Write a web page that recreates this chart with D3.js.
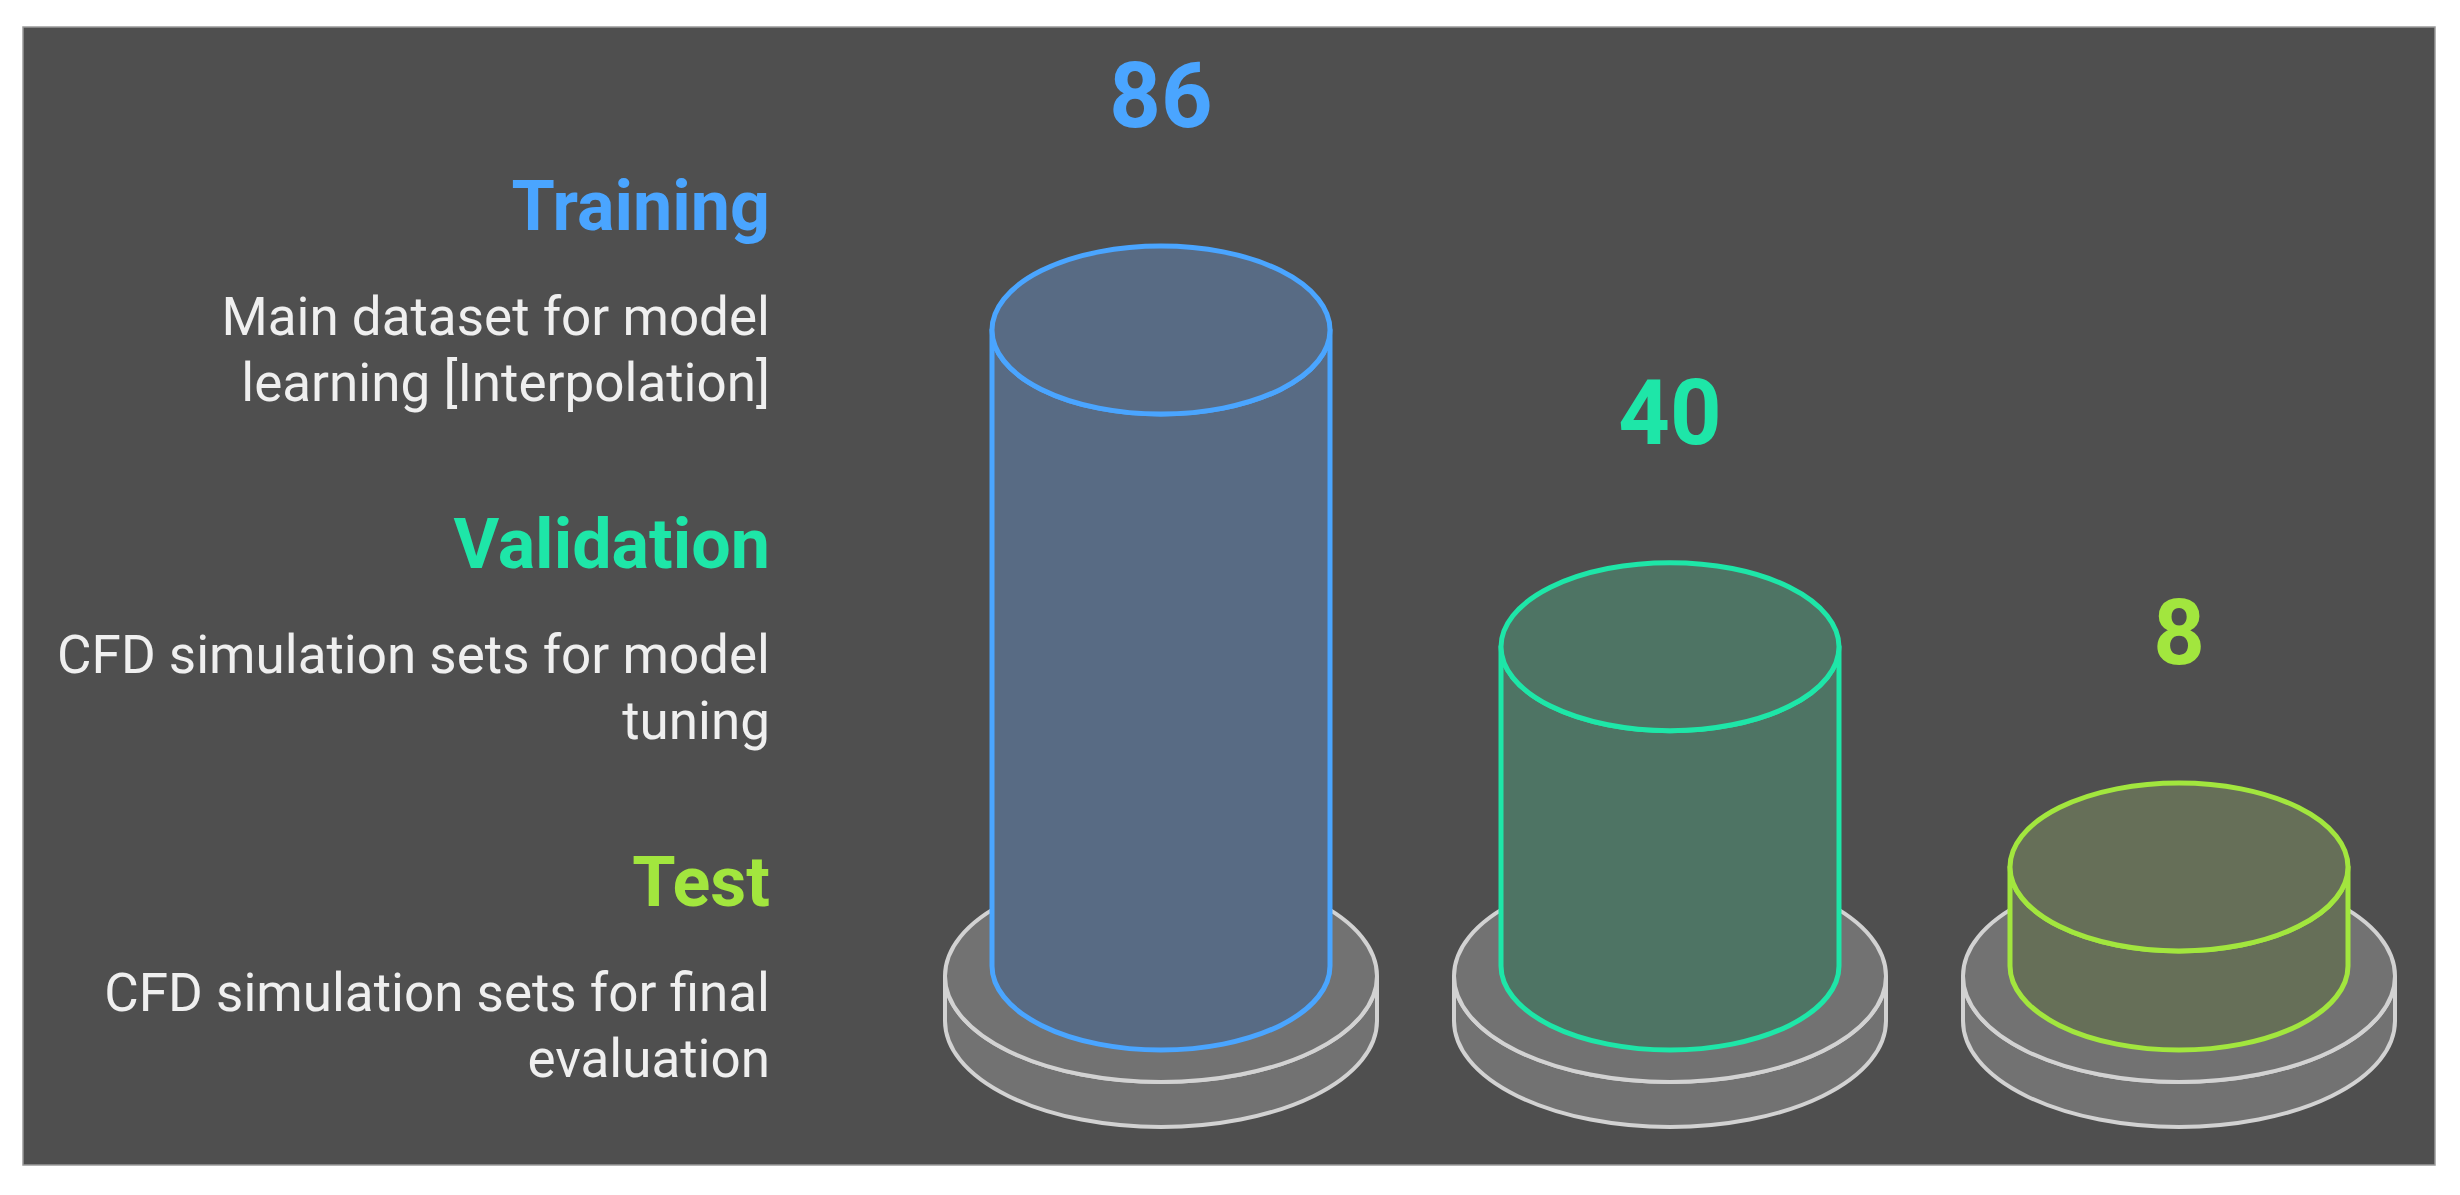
<!DOCTYPE html>
<html>
<head>
<meta charset="utf-8">
<script src="https://cdn.jsdelivr.net/npm/d3@7"></script>
<style>
  html, body { margin: 0; padding: 0; background: #ffffff; }
  svg { display: block; }
</style>
</head>
<body>
<svg id="chart" width="2460" height="1195"></svg>
<script>
// ---- data ----
const categories = ["Training", "Validation", "Test"];
const values = [86, 40, 8];
const valueLabels = ["86", "40", "8"];
const descriptions = [
  ["Main dataset for model", "learning [Interpolation]"],
  ["CFD simulation sets for model", "tuning"],
  ["CFD simulation sets for final", "evaluation"]
];
const strokeColors = ["#4aa5ff", "#1ee6a8", "#a2e63e"];
const fillColors = ["#586b84", "#4e7464", "#666f58"];

// ---- layout ----
const W = 2460, H = 1195;
const svg = d3.select("#chart");

svg.append("rect")
  .attr("x", 23).attr("y", 27).attr("width", 2412).attr("height", 1138)
  .attr("fill", "#4f4f4f").attr("stroke", "#9a9a9a").attr("stroke-width", 1.5);

const x = d3.scalePoint().domain(categories).range([1161, 2179]);
const h = d3.scaleLinear().domain([0, 86]).range([44, 636]);

const baseY = 966;      // cylinder bottom centre
const rx = 169, ry = 84; // cylinder ellipse radii
const pRx = 216, pRy = 106, pT = 45, pTop = 976; // pedestal

const g = svg.append("g");

categories.forEach((c, i) => {
  const cx = x(c);
  // pedestal side
  const side = d3.path();
  side.moveTo(cx - pRx, pTop);
  side.lineTo(cx - pRx, pTop + pT);
  side.arcTo; // placeholder (ellipse arcs via SVG path string below)
  const sidePath = `M${cx - pRx},${pTop} L${cx - pRx},${pTop + pT} ` +
    `A${pRx},${pRy} 0 0 0 ${cx + pRx},${pTop + pT} L${cx + pRx},${pTop} ` +
    `A${pRx},${pRy} 0 0 1 ${cx - pRx},${pTop} Z`;
  g.append("path").attr("d", sidePath)
    .attr("fill", "#727272").attr("stroke", "#d2d2d2").attr("stroke-width", 4);
  g.append("ellipse")
    .attr("cx", cx).attr("cy", pTop).attr("rx", pRx).attr("ry", pRy)
    .attr("fill", "#727272").attr("stroke", "#d2d2d2").attr("stroke-width", 4);

  // cylinder
  const topY = baseY - h(values[i]);
  const body = `M${cx - rx},${topY} L${cx - rx},${baseY} ` +
    `A${rx},${ry} 0 0 0 ${cx + rx},${baseY} L${cx + rx},${topY} ` +
    `A${rx},${ry} 0 0 1 ${cx - rx},${topY} Z`;
  g.append("path").attr("d", body)
    .attr("fill", fillColors[i]).attr("stroke", strokeColors[i]).attr("stroke-width", 5)
    .attr("stroke-linejoin", "round");
  g.append("ellipse")
    .attr("cx", cx).attr("cy", topY).attr("rx", rx).attr("ry", ry)
    .attr("fill", fillColors[i]).attr("stroke", strokeColors[i]).attr("stroke-width", 5);

  // value label
  g.append("text")
    .attr("x", cx).attr("y", topY - ry - 119)
    .attr("text-anchor", "middle")
    .attr("font-family", "Roboto, 'Noto Sans', sans-serif")
    .attr("font-weight", 700).attr("font-size", 90)
    .attr("fill", strokeColors[i])
    .text(valueLabels[i]);
});

// left legend / descriptions
const titleY = d3.scaleLinear().domain([0, 2]).range([230, 906]);
categories.forEach((c, i) => {
  const y0 = titleY(i);
  svg.append("text")
    .attr("x", 770).attr("y", y0)
    .attr("text-anchor", "end")
    .attr("font-family", "Roboto, 'Noto Sans', sans-serif")
    .attr("font-weight", 700).attr("font-size", 70)
    .attr("fill", strokeColors[i])
    .text(c);
  descriptions[i].forEach((line, j) => {
    svg.append("text")
      .attr("x", 770).attr("y", y0 + 105 + j * 66)
      .attr("text-anchor", "end")
      .attr("font-family", "Roboto, 'Noto Sans', sans-serif")
      .attr("font-weight", 400).attr("font-size", 53)
      .attr("fill", "#efefef")
      .text(line);
  });
});
</script>
</body>
</html>
